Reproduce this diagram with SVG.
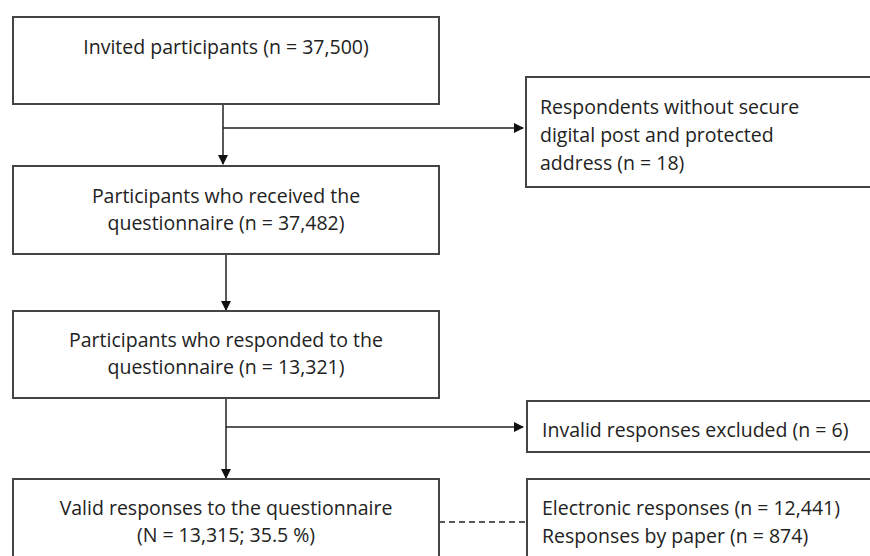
<svg xmlns="http://www.w3.org/2000/svg" width="870" height="556" viewBox="0 0 870 556">
<defs>
<style>
.box{fill:#fff;stroke:#444;stroke-width:2}
.t{font-family:"Open Sans","Liberation Sans",sans-serif;font-size:19.5px;fill:#222}
.c{text-anchor:middle}
.ln{stroke:#222;stroke-width:1.5;fill:none}
.dash{stroke:#222;stroke-width:1.5;fill:none;stroke-dasharray:6,4}
</style>
<marker id="ah" markerWidth="10" markerHeight="10" refX="9" refY="5" orient="auto" markerUnits="userSpaceOnUse">
<path d="M0,0 L10,5 L0,10 z" fill="#111"/>
</marker>
</defs>
<rect width="870" height="556" fill="#fff"/>
<g id="connectors">
<path class="ln" d="M223,104 V164" marker-end="url(#ah)"/>
<path class="ln" d="M223,128 H523" marker-end="url(#ah)"/>
<path class="ln" d="M226,254 V310" marker-end="url(#ah)"/>
<path class="ln" d="M226,398 V478" marker-end="url(#ah)"/>
<path class="ln" d="M226,427 H523" marker-end="url(#ah)"/>
<path class="dash" d="M439,522 H527"/>
</g>
<g id="invited">
<rect class="box" x="13" y="17" width="426" height="87"/>
<text class="t c" x="226" y="54">Invited participants (n = 37,500)</text>
</g>
<g id="received">
<rect class="box" x="13" y="166" width="426" height="88"/>
<text class="t c" x="226" y="203">Participants who received the</text>
<text class="t c" x="226" y="230">questionnaire (n = 37,482)</text>
</g>
<g id="responded">
<rect class="box" x="13" y="311" width="426" height="87"/>
<text class="t c" x="226" y="347">Participants who responded to the</text>
<text class="t c" x="226" y="374">questionnaire (n = 13,321)</text>
</g>
<g id="valid">
<rect class="box" x="13" y="479" width="426" height="90"/>
<text class="t c" x="226" y="515">Valid responses to the questionnaire</text>
<text class="t c" x="226" y="542">(N = 13,315; 35.5 %)</text>
</g>
<g id="nosecure">
<rect class="box" x="526" y="77" width="350" height="110"/>
<text class="t" x="540" y="114">Respondents without secure</text>
<text class="t" x="540" y="142">digital post and protected</text>
<text class="t" x="540" y="170">address (n = 18)</text>
</g>
<g id="invalid">
<rect class="box" x="527" y="401" width="350" height="51"/>
<text class="t" x="542" y="437">Invalid responses excluded (n = 6)</text>
</g>
<g id="modes">
<rect class="box" x="527" y="479" width="350" height="90"/>
<text class="t" x="542" y="515">Electronic responses (n = 12,441)</text>
<text class="t" x="542" y="543">Responses by paper (n = 874)</text>
</g>
</svg>
